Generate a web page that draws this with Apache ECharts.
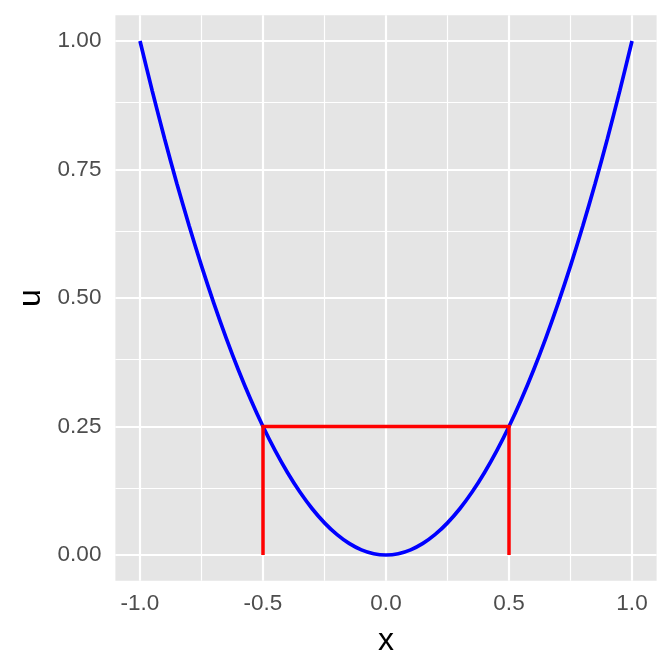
<!DOCTYPE html>
<html>
<head>
<meta charset="utf-8">
<script src="https://cdn.jsdelivr.net/npm/echarts@6/dist/echarts.min.js"></script>
<style>html,body{margin:0;padding:0;background:#fff;}#chart{width:672px;height:672px;}</style>
</head>
<body>
<div id="chart"></div>
<script>
// Curve u = x^2
const curveX = [-1.00,-0.95,-0.90,-0.85,-0.80,-0.75,-0.70,-0.65,-0.60,-0.55,-0.50,-0.45,-0.40,-0.35,-0.30,-0.25,-0.20,-0.15,-0.10,-0.05,0.00,0.05,0.10,0.15,0.20,0.25,0.30,0.35,0.40,0.45,0.50,0.55,0.60,0.65,0.70,0.75,0.80,0.85,0.90,0.95,1.00];
const curveU = [1.0000,0.9025,0.8100,0.7225,0.6400,0.5625,0.4900,0.4225,0.3600,0.3025,0.2500,0.2025,0.1600,0.1225,0.0900,0.0625,0.0400,0.0225,0.0100,0.0025,0.0000,0.0025,0.0100,0.0225,0.0400,0.0625,0.0900,0.1225,0.1600,0.2025,0.2500,0.3025,0.3600,0.4225,0.4900,0.5625,0.6400,0.7225,0.8100,0.9025,1.0000];
// Red bracket
const bracketX = [-0.5,-0.5,0.5,0.5];
const bracketU = [0.00,0.25,0.25,0.00];
// Ticks
const xTicks = [-1.0,-0.5,0.0,0.5,1.0];
const xMinor = [-0.75,-0.25,0.25,0.75];
const yTicks = [0.00,0.25,0.50,0.75,1.00];
const yMinor = [0.125,0.375,0.625,0.875];

const chart = echarts.init(document.getElementById('chart'), null, {renderer:'canvas'});
const font = 'Liberation Sans, Arial, Helvetica, sans-serif';
const pair = (xs, ys) => xs.map((x,i)=>[x, ys[i]]);
const gridMark = (vals, key, w) => vals.map(v => ({[key]: v, lineStyle:{color:'#FFFFFF', width:w, type:'solid'}}));

chart.setOption({
  animation:false,
  backgroundColor:'#FFFFFF',
  grid:{left:115.4, right:15.4, top:15.3, bottom:91.3, show:true, backgroundColor:'#E5E5E5', borderWidth:0},
  xAxis:{
    type:'value', min:-1.1, max:1.1,
    name:'x', nameLocation:'middle', nameGap:44,
    nameTextStyle:{fontFamily:font, fontSize:32, color:'#000000'},
    axisLine:{show:false},
    axisTick:{show:true, customValues:xTicks, length:7, lineStyle:{color:'#333333', width:2}},
    axisLabel:{customValues:xTicks, fontFamily:font, fontSize:22.5, color:'#4D4D4D', margin:12,
      formatter:v=>v.toFixed(1)},
    splitLine:{show:false}
  },
  yAxis:{
    type:'value', min:-0.05, max:1.05,
    name:'u', nameLocation:'middle', nameGap:68,
    nameTextStyle:{fontFamily:font, fontSize:32, color:'#000000'},
    axisLine:{show:false},
    axisTick:{show:true, customValues:yTicks, length:7, lineStyle:{color:'#333333', width:2}},
    axisLabel:{customValues:yTicks, fontFamily:font, fontSize:22.5, color:'#4D4D4D', margin:14,
      formatter:v=>v.toFixed(2)},
    splitLine:{show:false}
  },
  series:[
    {
      type:'line', data:[], silent:true, z:1,
      markLine:{silent:true, z:1, symbol:['none','none'], label:{show:false}, animation:false,
        data:[].concat(gridMark(xMinor,'xAxis',1.2), gridMark(yMinor,'yAxis',1.2),
                       gridMark(xTicks,'xAxis',2.2), gridMark(yTicks,'yAxis',2.2))}
    },
    {
      type:'line', data:pair(curveX, curveU), showSymbol:false, smooth:0.3, z:10,
      lineStyle:{color:'#0000FF', width:3.7}, silent:true
    },
    {
      type:'line', data:pair(bracketX, bracketU), showSymbol:false, z:11,
      lineStyle:{color:'#FF0000', width:3.5, join:'miter'}, silent:true
    }
  ]
});
</script>
</body>
</html>
